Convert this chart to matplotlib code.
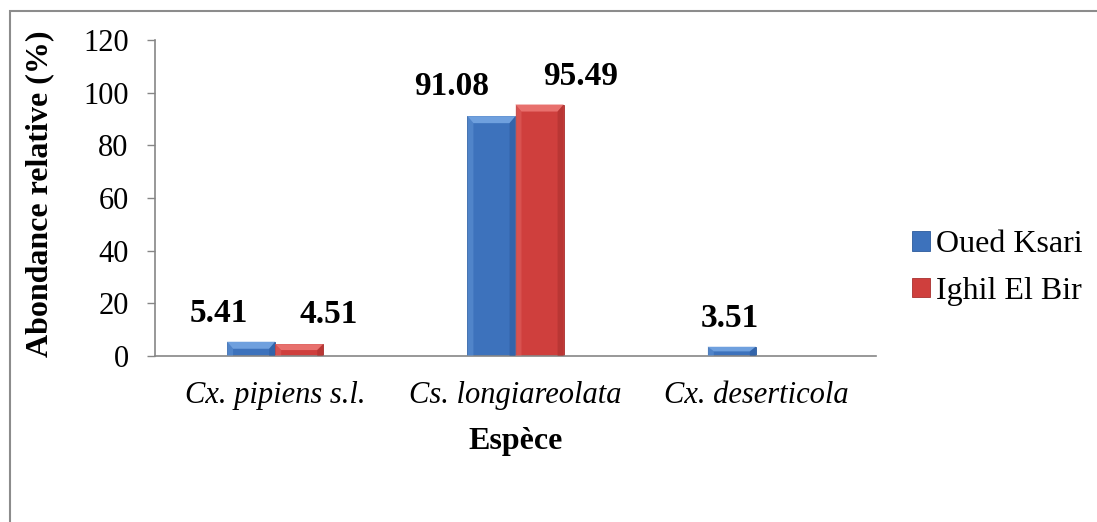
import numpy as np
import matplotlib
matplotlib.use("Agg")
import matplotlib.pyplot as plt
from matplotlib.patches import Rectangle, Polygon

# ---- data ----
categories = ["Cx. pipiens s.l.", "Cs. longiareolata", "Cx. deserticola"]
series_names = ["Oued Ksari", "Ighil El Bir"]
oued_ksari = [5.41, 91.08, 3.51]
ighil_el_bir = [4.51, 95.49, np.nan]
y_ticks = [0, 20, 40, 60, 80, 100, 120]

plt.rcParams['font.family'] = ['Liberation Serif', 'DejaVu Serif']

W, H = 1097, 522
fig = plt.figure(figsize=(W / 100, H / 100), dpi=100)
ax = fig.add_axes([155 / W, 1 - 356 / H, (876 - 155) / W, (356 - 40) / H])

gray = "#868686"
colors = ["#3D72BC", "#CF3F3D"]
light = ["#6FA0DE", "#E8706D"]
dark = ["#2B5A9C", "#A8302E"]

x = np.arange(len(categories))
w = 0.2
series = [oued_ksari, ighil_el_bir]
offsets = [-w / 2, w / 2]

ax.set_xlim(-0.5, len(categories) - 0.5)
ax.set_ylim(0, 120)

px_x = (ax.get_xlim()[1] - ax.get_xlim()[0]) / (876 - 155)
px_y = 120 / (356 - 40)

bar_containers = []
for i, vals in enumerate(series):
    v = np.array(vals, dtype=float)
    bc = ax.bar(x + offsets[i], np.nan_to_num(v), width=w, color=colors[i],
                edgecolor=dark[i], linewidth=0.6, zorder=2, label=series_names[i])
    bar_containers.append(bc)
    for rect, val in zip(bc, v):
        if np.isnan(val) or val <= 0:
            continue
        x0 = rect.get_x(); x1 = x0 + rect.get_width(); top = rect.get_height()
        bx = 6 * px_x
        by = min(7 * px_y, top * 0.5)
        ax.add_patch(Polygon([[x0, top], [x1, top], [x1 - bx, top - by], [x0 + bx, top - by]],
                             closed=True, facecolor=light[i], edgecolor='none', zorder=3))
        ax.add_patch(Polygon([[x0, top], [x0 + bx, top - by], [x0 + bx, 0], [x0, 0]],
                             closed=True, facecolor=light[i], edgecolor='none', alpha=0.4, zorder=3))
        ax.add_patch(Polygon([[x1, top], [x1 - bx, top - by], [x1 - bx, 0], [x1, 0]],
                             closed=True, facecolor=dark[i], edgecolor='none', alpha=0.55, zorder=3))

# data labels (pixel offsets from bar top-centre)
label_dx = [[-32, -40, -2], [29, 41, 0]]
label_dy = [[28, 30, 28], [30, 28, 0]]
for i, vals in enumerate(series):
    for j, val in enumerate(vals):
        if np.isnan(val):
            continue
        ax.annotate(f"{val:.2f}", xy=(x[j] + offsets[i], val),
                    xytext=(label_dx[i][j] * 0.72, label_dy[i][j] * 0.72), textcoords='offset points',
                    ha='center', va='center', fontsize=24, fontweight='bold', zorder=5)

ax.set_yticks(y_ticks)
ax.set_yticklabels([str(t) for t in y_ticks], fontsize=22)
ax.tick_params(axis='y', direction='out', length=6, width=1, color=gray, pad=13)
ax.set_xticks(x)
ax.set_xticklabels(categories, fontsize=22, fontstyle='italic')
ax.tick_params(axis='x', length=0, pad=18)

for s in ['top', 'right']:
    ax.spines[s].set_visible(False)
for s in ['left', 'bottom']:
    ax.spines[s].set_color(gray)
    ax.spines[s].set_linewidth(1.2)

fig.text(40 / W, 1 - 194 / H, "Abondance relative (%)", rotation=90, fontsize=23,
         fontweight='bold', ha='center', va='center')
fig.text(516 / W, 1 - 441 / H, "Espèce", fontsize=23, fontweight='bold',
         ha='center', va='center')

leg = fig.legend(handles=bar_containers, labels=series_names, loc='center left',
                 bbox_to_anchor=(912 / W, 1 - 268 / H), frameon=False, fontsize=23,
                 handlelength=0.55, handleheight=0.55, handletextpad=0.2, labelspacing=0.55,
                 borderaxespad=0, borderpad=0)

# outer chart border
fig.patches.append(Rectangle((9.5 / W, -0.2), 1.5, 1 - 11 / H + 0.2, transform=fig.transFigure,
                             fill=False, edgecolor="#8C8C8C", linewidth=1.5, figure=fig))

fig.savefig("out.png", dpi=100)
